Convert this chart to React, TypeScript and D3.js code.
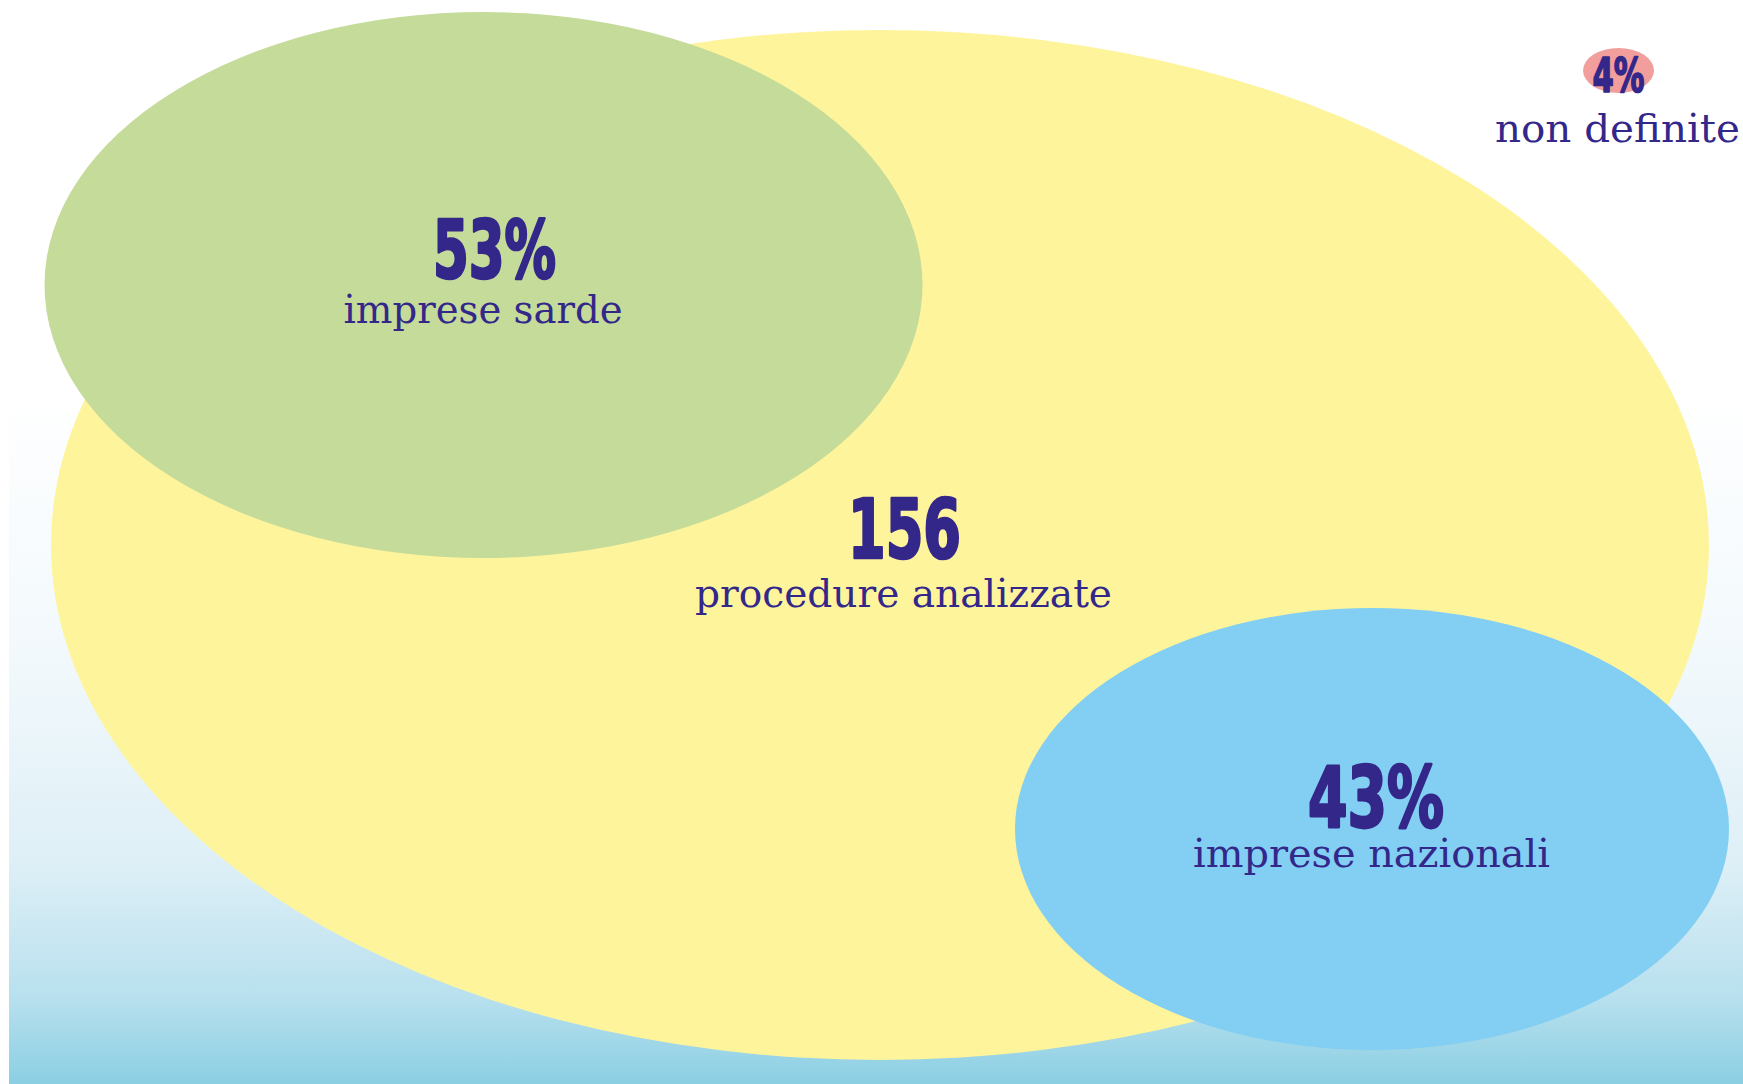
import React from "react";
import * as d3 from "d3";

// ---- data ----
const groupLabels = ["imprese sarde", "imprese nazionali", "non definite"];
const groupValues = [53, 43, 4];
const totalCount = 156;
const totalLabel = "procedure analizzate";

// ---- layout (pixel geometry of the bubbles, not data) ----
const W = 1743;
const H = 1084;
const outer = { cx: 880, cy: 545, rx: 829, ry: 515 };
const bubbles = [
  { cx: 483.5, cy: 285, rx: 439, ry: 273, fill: "#C5DB9A" },
  { cx: 1372, cy: 829, rx: 357, ry: 221, fill: "#82CFF3" },
  { cx: 1618.5, cy: 70.5, rx: 35.5, ry: 22.5, fill: "#F29E9C" },
];
const labelPos = [
  { vx: 494.5, vy: 278, vw: 123, vs: 80, lx: 483, ly: 323, lw: 279, ls: 39 },
  { vx: 1376, vy: 827, vw: 136, vs: 84, lx: 1371.5, ly: 867, lw: 357, ls: 39 },
  { vx: 1618.5, vy: 92, vw: 52, vs: 48, lx: 1617.5, ly: 142, lw: 245, ls: 39 },
];
const totalPos = { vx: 904.5, vy: 558, vw: 113, vs: 82, lx: 903.5, ly: 607, lw: 417, ls: 39 };

const INK = "#33278A";
const BOLD = "'Liberation Sans Narrow', 'DejaVu Sans Condensed', 'Roboto', sans-serif";
const SERIF = "'DejaVu Serif', 'Liberation Serif', serif";

const fmtPct = (v: number) => d3.format("d")(v) + "%";

function Label({ p, value, label }: { p: any; value: string; label: string }) {
  return (
    <g>
      <text
        x={p.vx}
        y={p.vy}
        textAnchor="middle"
        fontFamily={BOLD}
        fontWeight={700}
        fontSize={p.vs}
        fill={INK}
        stroke={INK}
        strokeWidth={p.vs / 30}
        strokeLinejoin="round"
        textLength={p.vw}
        lengthAdjust="spacingAndGlyphs"
      >
        {value}
      </text>
      <text
        x={p.lx}
        y={p.ly}
        textAnchor="middle"
        fontFamily={SERIF}
        fontSize={p.ls}
        fill={INK}
        textLength={p.lw}
        lengthAdjust="spacingAndGlyphs"
      >
        {label}
      </text>
    </g>
  );
}

export default function App() {
  return (
    <svg
      width={W}
      height={H}
      style={{ position: "absolute", left: 0, top: 0, display: "block" }}
    >
      <defs>
        <linearGradient id="bg" x1="0" y1="0" x2="0" y2="1">
          <stop offset="0" stopColor="#FFFFFF" />
          <stop offset="0.36" stopColor="#FFFFFF" />
          <stop offset="0.62" stopColor="#F1F8FC" />
          <stop offset="0.8" stopColor="#DDEFF6" />
          <stop offset="0.92" stopColor="#B8E0EE" />
          <stop offset="1" stopColor="#8BCFE3" />
        </linearGradient>
      </defs>
      <rect x={0} y={0} width={W} height={H} fill="#FFFFFF" />
      <rect x={9} y={0} width={W - 9} height={H} fill="url(#bg)" />
      <ellipse cx={outer.cx} cy={outer.cy} rx={outer.rx} ry={outer.ry} fill="#FEF49C" />
      {bubbles.map((b, i) => (
        <ellipse key={i} cx={b.cx} cy={b.cy} rx={b.rx} ry={b.ry} fill={b.fill} />
      ))}
      <Label p={totalPos} value={String(totalCount)} label={totalLabel} />
      {groupValues.map((v, i) => (
        <Label key={i} p={labelPos[i]} value={fmtPct(v)} label={groupLabels[i]} />
      ))}
    </svg>
  );
}
